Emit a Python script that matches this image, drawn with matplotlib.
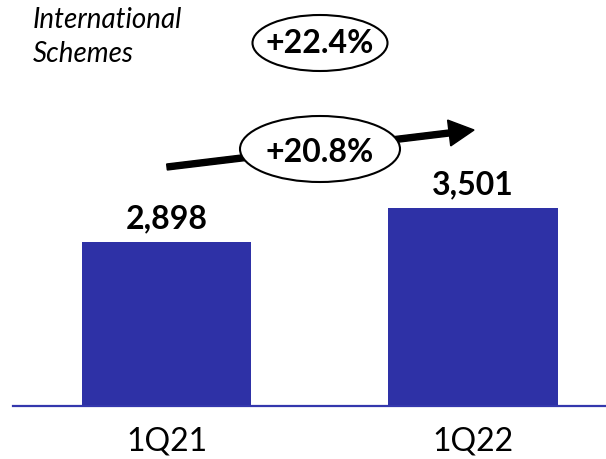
import matplotlib
matplotlib.use("Agg")
import matplotlib.pyplot as plt
from matplotlib.patches import Ellipse, FancyArrow
from matplotlib.transforms import IdentityTransform

categories = ["1Q21", "1Q22"]
values = [2898, 3501]
value_labels = ["2,898", "3,501"]
growth_total = "+22.4%"
growth_segment = "+20.8%"
title_lines = ["International", "Schemes"]

BAR_COLOR = "#2E31A6"
W, H = 606, 459
plt.rcParams['font.family'] = ['Lato', 'DejaVu Sans']

fig = plt.figure(figsize=(W / 100, H / 100), dpi=100)
ax = fig.add_axes([13 / W, 53 / H, (W - 13) / W, 406 / H])

x = list(range(len(categories)))
ax.bar(x, values, width=0.553, color=BAR_COLOR, zorder=2)
ax.set_xlim(-0.501, 1.434)
ax.set_ylim(0, 7177)

for s in ["top", "right", "left"]:
    ax.spines[s].set_visible(False)
ax.spines["bottom"].set_color("#3437AD")
ax.spines["bottom"].set_linewidth(1.6)
ax.set_yticks([])
ax.set_xticks(x)
ax.set_xticklabels(categories, fontsize=23)
ax.tick_params(axis="x", length=0, pad=15)

for xi, v, lab in zip(x, values, value_labels):
    ax.annotate(lab, xy=(xi, v), xytext=(0, 10), textcoords="offset points",
                ha="center", va="baseline", fontsize=23, fontweight="bold")

# title (two lines, baselines in pixels from top)
for line, base in zip(title_lines, [28, 62]):
    fig.text(33 / W, 1 - base / H, line, fontsize=20, fontstyle="italic",
             ha="left", va="baseline")

# arrow (pixel coordinates)
x0, y0 = 167, H - 167
x1, y1 = 474, H - 130
arrow = FancyArrow(x0, y0, x1 - x0, y1 - y0, width=6, head_width=26,
                   head_length=25, length_includes_head=True,
                   color="black", transform=IdentityTransform())
fig.add_artist(arrow)

e1 = Ellipse((320, H - 43), 135, 56, facecolor="white", edgecolor="black",
             lw=1.5, transform=IdentityTransform())
fig.add_artist(e1)
e2 = Ellipse((320, H - 149), 160, 66, facecolor="white", edgecolor="black",
             lw=1.5, transform=IdentityTransform())
fig.add_artist(e2)

fig.text(320 / W, 1 - 53 / H, growth_total, fontsize=23, fontweight="bold",
         ha="center", va="baseline")
fig.text(320 / W, 1 - 162 / H, growth_segment, fontsize=23, fontweight="bold",
         ha="center", va="baseline")

fig.savefig("out.png", dpi=100)
